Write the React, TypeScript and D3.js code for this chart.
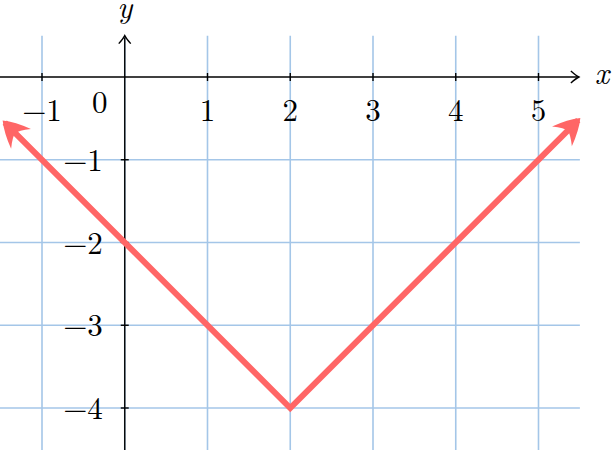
import React, { useRef, useEffect } from 'react';
import * as d3 from 'd3';

const xTicks = [-1, 1, 2, 3, 4, 5];
const yTicks = [-1, -2, -3, -4];
const gridX = [-1, 0, 1, 2, 3, 4, 5];
const gridY = [-1, -2, -3, -4];
const curveX = [-1.45, 2, 5.48];
const curveY = [-0.55, -4, -0.52];

const W = 613;
const H = 450;

const App = () => {
  const svgRef = useRef<SVGSVGElement>(null);

  useEffect(() => {
    const svg = d3.select(svgRef.current);
    svg.selectAll('*').remove();

    const x = d3.scaleLinear().domain([-1, 5]).range([42, 538.5]);
    const y = d3.scaleLinear().domain([0, -4]).range([77, 408]);
    const font = '"Latin Modern Roman", "Liberation Serif", serif';

    // grid
    const grid = svg.append('g').attr('stroke', '#a4c6e8').attr('stroke-width', 1.6);
    grid.selectAll('line.v').data(gridX).enter().append('line')
      .attr('x1', d => x(d)).attr('x2', d => x(d))
      .attr('y1', y(0.5)).attr('y2', H);
    grid.selectAll('line.h').data(gridY).enter().append('line')
      .attr('x1', 0).attr('x2', x(5.5))
      .attr('y1', d => y(d)).attr('y2', d => y(d));

    // axes
    const ax = svg.append('g').attr('stroke', '#000').attr('stroke-width', 1.4).attr('fill', 'none');
    ax.append('line').attr('x1', 0).attr('x2', x(5.5) - 2).attr('y1', y(0)).attr('y2', y(0));
    ax.append('line').attr('x1', x(0)).attr('x2', x(0)).attr('y1', H).attr('y2', y(0.5) + 2);
    const ax5 = x(5.5) - 1;
    ax.append('path')
      .attr('d', `M${ax5 - 8},${y(0) - 6} Q${ax5 - 3},${y(0) - 1.5} ${ax5},${y(0)} Q${ax5 - 3},${y(0) + 1.5} ${ax5 - 8},${y(0) + 6}`);
    const ayt = y(0.5);
    ax.append('path')
      .attr('d', `M${x(0) - 6},${ayt + 8} Q${x(0) - 1.5},${ayt + 3} ${x(0)},${ayt} Q${x(0) + 1.5},${ayt + 3} ${x(0) + 6},${ayt + 8}`);

    ax.selectAll('line.tx').data(xTicks).enter().append('line')
      .attr('x1', d => x(d)).attr('x2', d => x(d))
      .attr('y1', y(0) - 4).attr('y2', y(0) + 4);
    ax.selectAll('line.ty').data(yTicks).enter().append('line')
      .attr('x1', x(0) - 4).attr('x2', x(0) + 4)
      .attr('y1', d => y(d)).attr('y2', d => y(d));

    // labels
    const fmt = (v: number) => (v < 0 ? '\u2212' + Math.abs(v) : String(v));
    const lbl = svg.append('g').attr('font-family', font).attr('font-size', 31).attr('fill', '#000');
    lbl.selectAll('text.x').data(xTicks).enter().append('text')
      .attr('x', d => x(d))
      .attr('y', y(0) + 44)
      .attr('text-anchor', 'middle')
      .text(fmt);
    lbl.selectAll('text.y').data(yTicks).enter().append('text')
      .attr('x', x(0) - 22)
      .attr('y', d => y(d) + 11)
      .attr('text-anchor', 'end')
      .text(fmt);
    lbl.append('text').attr('x', x(0) - 25).attr('y', y(0) + 36).attr('text-anchor', 'middle').text('0');
    lbl.append('text').attr('x', x(5.5) + 22).attr('y', y(0) + 7).attr('text-anchor', 'middle')
      .attr('font-style', 'italic').text('x');
    lbl.append('text').attr('x', x(0)).attr('y', 18).attr('text-anchor', 'middle')
      .attr('font-style', 'italic').text('y');

    // function line
    const pts = curveX.map((v, i) => [x(v), y(curveY[i])] as [number, number]);
    const line = d3.line<[number, number]>();
    svg.append('path')
      .attr('d', line(pts))
      .attr('fill', 'none')
      .attr('stroke', '#ff6666')
      .attr('stroke-width', 6)
      .attr('stroke-linejoin', 'miter');

    // arrowheads at both ends
    const ends: [[number, number], [number, number]][] = [
      [pts[0], pts[1]],
      [pts[pts.length - 1], pts[pts.length - 2]],
    ];
    ends.forEach(([tip, prev]) => {
      const ang = Math.atan2(tip[1] - prev[1], tip[0] - prev[0]) * 180 / Math.PI;
      svg.append('path')
        .attr('d', 'M3,0 Q-7,-8 -23,-14 Q-15,-4 -15,0 Q-15,4 -23,14 Q-7,8 3,0 Z')
        .attr('fill', '#ff6666')
        .attr('transform', `translate(${tip[0]},${tip[1]}) rotate(${ang})`);
    });
  }, []);

  return (
    <svg ref={svgRef} width={W} height={H}
      style={{ position: 'fixed', top: 0, left: 0, background: '#fff' }} />
  );
};

export default App;
